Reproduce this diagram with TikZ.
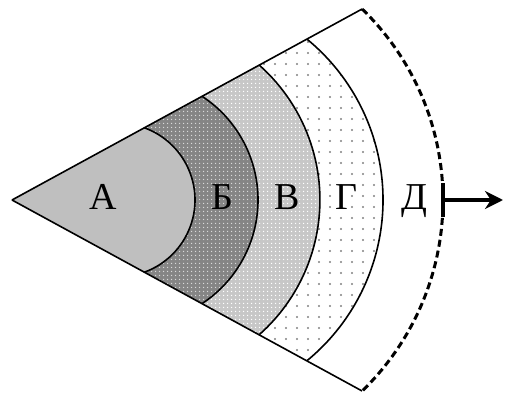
\documentclass[tikz,border=0pt]{standalone}
\usepackage{fontspec}
\newfontfamily\lblfont{Liberation Serif}
\usetikzlibrary{patterns,patterns.meta,arrows.meta}
\begin{document}
\begin{tikzpicture}[x=1pt,y=1pt,
  edge/.style={line width=1.6pt,black},
  lbl/.style={font=\lblfont\fontsize{38}{38}\selectfont, anchor=base, inner sep=0pt}]
\useasboundingbox (0,0) rectangle (505,394);
\coordinate (apex) at (12,194);
\coordinate (U5) at (362.1,385);
\coordinate (L5) at (362.1,3);
\coordinate (U4) at (306.9,354.9);
\coordinate (U3) at (259.2,328.9);
\coordinate (U2) at (202.1,297.7);
\coordinate (U1) at (144.4,266.2);
% regions
\path[pattern={Dots[distance=11pt,radius=1.1pt]},pattern color=black!50]
  (apex) -- (U4) arc[start angle=50.65,end angle=-50.65,radius=208] -- cycle;
\path[fill=black!22, postaction={pattern={Dots[distance=4pt,radius=0.9pt]},pattern color=white}]
  (apex) -- (U3) arc[start angle=48.5,end angle=-48.5,radius=180] -- cycle;
\path[fill=black!48, postaction={pattern={Dots[distance=4pt,radius=0.9pt]},pattern color=white!85!black}]
  (apex) -- (U2) arc[start angle=56.7,end angle=-56.7,radius=124] -- cycle;
\path[fill=black!25]
  (apex) -- (U1) arc[start angle=70.05,end angle=-70.05,radius=76.8] -- cycle;
% boundaries
\draw[edge] (U1) arc[start angle=70.05,end angle=-70.05,radius=76.8];
\draw[edge] (U2) arc[start angle=56.7,end angle=-56.7,radius=124];
\draw[edge] (U3) arc[start angle=48.5,end angle=-48.5,radius=180];
\draw[edge] (U4) arc[start angle=50.65,end angle=-50.65,radius=208];
\draw[edge] (apex) -- (U5);
\draw[edge] (apex) -- (L5);
\draw[line width=3pt, dash pattern=on 7pt off 4pt] (U5) arc[start angle=45.9,end angle=-45.9,radius=266];
% arrow
\coordinate (barT) at (443,211);
\coordinate (barB) at (443,177);
\coordinate (arrS) at (443,194);
\coordinate (arrE) at (503,194);
\draw[line width=3.2pt] (barB) -- (barT);
\draw[line width=4pt,-{Stealth[length=18pt,width=18pt]}] (arrS) -- (arrE);
% labels
\node[lbl] (la) at (103,185) {А};
\node[lbl] (lb) at (222,185) {Б};
\node[lbl] (lv) at (287,185) {В};
\node[lbl] (lg) at (346,185) {Г};
\node[lbl] (ld) at (414,185) {Д};
\end{tikzpicture}
\end{document}
